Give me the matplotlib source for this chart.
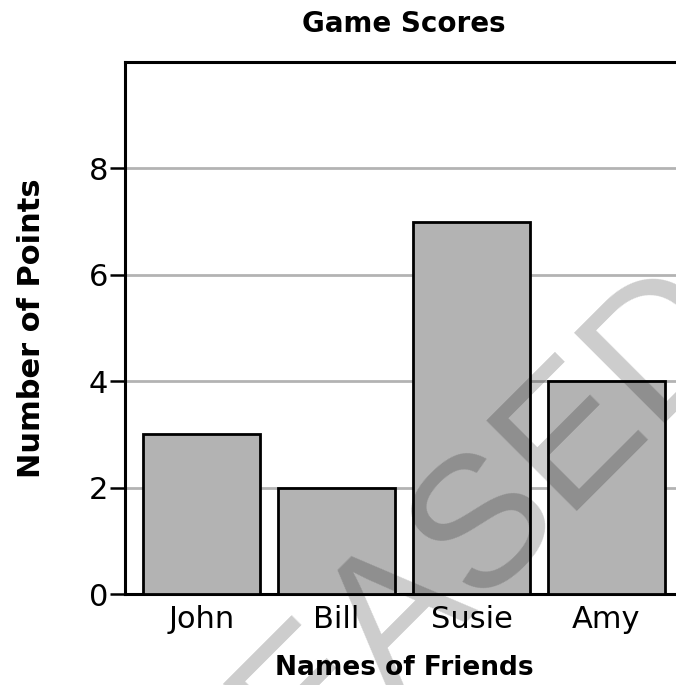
import matplotlib
matplotlib.use("Agg")
import matplotlib.pyplot as plt

names = ["John", "Bill", "Susie", "Amy"]
points = [3, 2, 7, 4]
yticks = [0, 2, 4, 6, 8]

plt.rcParams['font.family'] = 'DejaVu Sans'

fig = plt.figure(figsize=(6.76, 6.85), dpi=100)
ax = fig.add_axes([0.1849, 0.1328, 0.8254, 0.7766])

ax.bar(range(len(names)), points, width=0.867, color="#b3b3b3",
       edgecolor="black", linewidth=2, zorder=3)

ax.set_ylim(0, 10)
ax.set_xlim(-0.567, 3.567)
ax.set_yticks(yticks)
ax.set_xticks(range(len(names)))
ax.set_xticklabels(names)
ax.yaxis.grid(True, color="#b3b3b3", linewidth=2)
ax.set_axisbelow(True)

for s in ["left", "top", "bottom"]:
    ax.spines[s].set_linewidth(2.2)
ax.spines["right"].set_visible(False)
ax.tick_params(axis="y", length=11, width=1.8, labelsize=22, pad=1)
ax.tick_params(axis="x", length=0, labelsize=22, pad=8)

ax.set_title("Game Scores", fontsize=20, fontweight="bold", pad=22)
ax.set_xlabel("Names of Friends", fontsize=19, fontweight="bold", labelpad=15)
ax.set_ylabel("Number of Points", fontsize=22, fontweight="bold", labelpad=31)

# watermark
fig.text(360 / 676, 1 - 645 / 685, "RELEASED", fontsize=134, rotation=45,
         family="Liberation Sans", color="black", alpha=0.2,
         ha="center", va="center", rotation_mode="anchor", zorder=10)

fig.savefig("out.png", dpi=100)
